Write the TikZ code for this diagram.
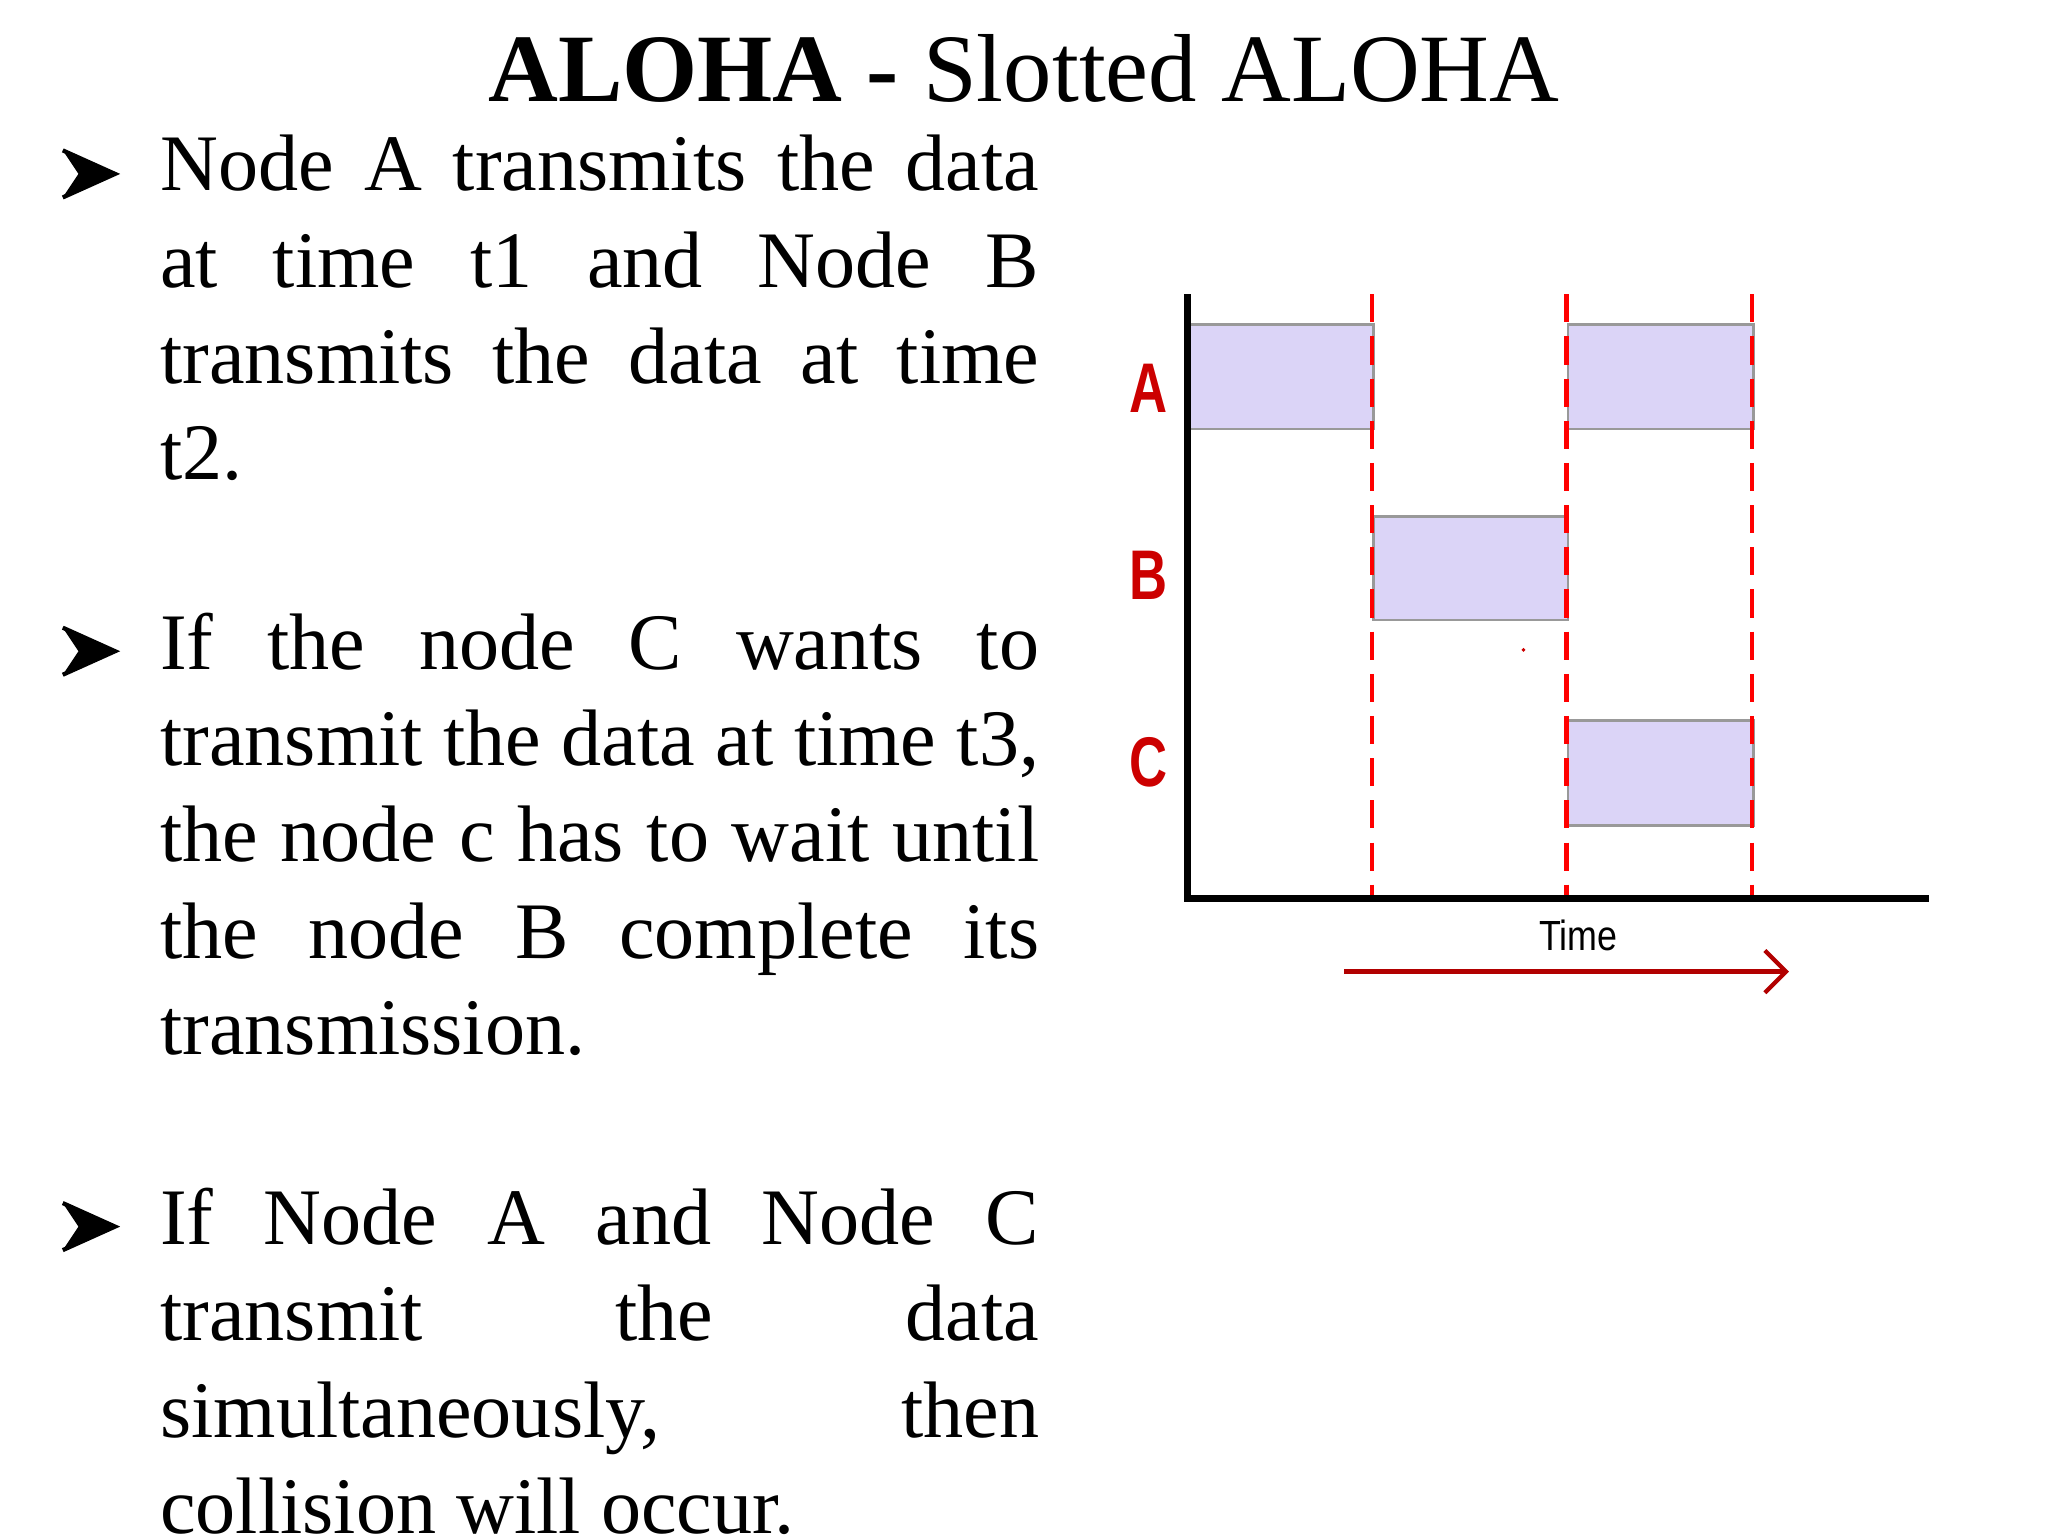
\documentclass[tikz,border=0pt]{standalone}
\usepackage{fontspec}
\setmainfont{Liberation Serif}
\newfontfamily\lblfont{Liberation Sans}
\usetikzlibrary{arrows.meta}
\definecolor{lav}{rgb}{0.86,0.83,0.97}
\begin{document}
\begin{tikzpicture}[x=0.01307cm,y=-0.01307cm,
  bul/.style={fill=black},
  para/.style={anchor=north west,inner sep=0,text width=8.79cm,align=justify,font=\fontsize{22.8}{27.4}\selectfont},
  slot/.style={draw=gray!80,fill=lav,line width=0.8pt,anchor=north west,inner sep=0},
  div/.style={red,line width=1.2pt,dash pattern=on 8pt off 4pt},
  lbl/.style={text=red!80!black,font=\lblfont\bfseries\fontsize{20}{20}\selectfont,xscale=0.75}]
\useasboundingbox (0,0) rectangle (20.48cm,-15.36cm);
\node (title) at (783,52) {\fontsize{27.5}{27.5}\selectfont\textbf{ALOHA -} Slotted ALOHA};
\foreach \yy/\nm in {133/b1,498/b2,938/b3}{
  \fill[bul] (48,\yy-18) -- (88,\yy) -- (48,\yy+18) -- (60,\yy) -- cycle;
  \draw[line width=1.2pt] (48,\yy-18) -- (88,\yy) -- (48,\yy+18);
}
\node[para] (p1) at (122,103) {Node A transmits the data\linebreak at time t1 and Node B\linebreak transmits the data at time\linebreak t2.};
\node[para] (p2) at (122,468) {If the node C wants to\linebreak transmit the data at time t3,\linebreak the node c has to wait until\linebreak the node B complete its\linebreak transmission.};
\node[para] (p3) at (122,908) {If Node A and Node C\linebreak transmit the data\linebreak simultaneously, then\linebreak collision will occur.};
\node[slot,minimum width=141*0.01307cm,minimum height=80*0.01307cm] (a1) at (908,247) {};
\node[slot,minimum width=142*0.01307cm,minimum height=80*0.01307cm] (a2) at (1198,247) {};
\node[slot,minimum width=149*0.01307cm,minimum height=79*0.01307cm] (bb) at (1049,394) {};
\node[slot,minimum width=142*0.01307cm,minimum height=80*0.01307cm] (cc) at (1198,550) {};
\foreach \xx in {1049,1198,1340}{\draw[div] (\xx,225) -- (\xx,687);}
\coordinate (top) at (908,225);
\coordinate (org) at (908,687);
\coordinate (xend) at (1475,687);
\draw[line width=2.2pt] (top) -- (org) -- (xend);
\node[lbl] (la) at (878,297) {A};
\node[lbl] (lb) at (878,440) {B};
\node[lbl] (lc) at (878,583) {C};
\node[font=\lblfont\fontsize{12}{12}\selectfont,xscale=0.85] (time) at (1207,715) {Time};
\coordinate (ts) at (1028,743);
\coordinate (te) at (1368,743);
\draw[red!70!black,line width=1.2pt,-{Straight Barb[length=6pt]}] (ts) -- (te);
\fill[red!80!black] (1165,497) circle (1.5);
\end{tikzpicture}
\end{document}
